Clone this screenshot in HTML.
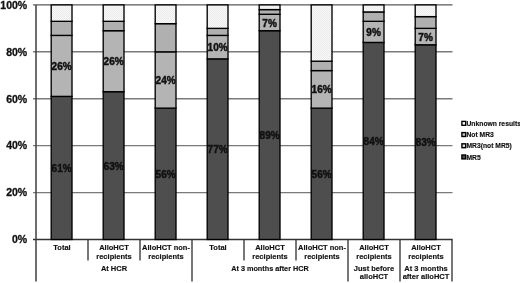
<!DOCTYPE html><html><head><meta charset="utf-8"><style>
html,body{margin:0;padding:0;background:#fff;overflow:hidden;width:520px;height:283px;}
svg{display:block;will-change:transform;font-family:"Liberation Sans",sans-serif;font-weight:bold;}
</style></head><body>
<svg width="520" height="283" viewBox="0 0 520 283">
<defs><pattern id="dots" width="2" height="2" patternUnits="userSpaceOnUse"><rect width="2" height="2" fill="#f9f9f9"/><rect width="1" height="1" fill="#eaeaea"/><rect x="1" y="1" width="1" height="1" fill="#eaeaea"/></pattern></defs>
<rect width="520" height="283" fill="#fff"/>
<line x1="33" y1="192.58" x2="452.5" y2="192.58" stroke="#7a7a7a" stroke-width="1.4"/>
<line x1="33" y1="145.66" x2="452.5" y2="145.66" stroke="#7a7a7a" stroke-width="1.4"/>
<line x1="33" y1="98.74" x2="452.5" y2="98.74" stroke="#7a7a7a" stroke-width="1.4"/>
<line x1="33" y1="51.82" x2="452.5" y2="51.82" stroke="#7a7a7a" stroke-width="1.4"/>
<line x1="33" y1="4.90" x2="452.5" y2="4.90" stroke="#5a5a5a" stroke-width="1.4"/>
<line x1="33" y1="239.50" x2="452.6" y2="239.50" stroke="#333" stroke-width="1.3"/>
<text x="27.2" y="243.30" text-anchor="end" font-size="10.5" fill="#111" stroke="#111" stroke-width="0.3">0%</text>
<text x="27.2" y="196.38" text-anchor="end" font-size="10.5" fill="#111" stroke="#111" stroke-width="0.3">20%</text>
<text x="27.2" y="149.46" text-anchor="end" font-size="10.5" fill="#111" stroke="#111" stroke-width="0.3">40%</text>
<text x="27.2" y="102.54" text-anchor="end" font-size="10.5" fill="#111" stroke="#111" stroke-width="0.3">60%</text>
<text x="27.2" y="55.62" text-anchor="end" font-size="10.5" fill="#111" stroke="#111" stroke-width="0.3">80%</text>
<text x="27.2" y="8.70" text-anchor="end" font-size="10.5" fill="#111" stroke="#111" stroke-width="0.3">100%</text>
<line x1="36" y1="4.90" x2="36" y2="281.5" stroke="#3e3e3e" stroke-width="1.5"/>
<line x1="88.00" y1="239.50" x2="88.00" y2="260.5" stroke="#2e2e2e" stroke-width="1.3"/>
<line x1="140.00" y1="239.50" x2="140.00" y2="260.5" stroke="#2e2e2e" stroke-width="1.3"/>
<line x1="192.00" y1="239.50" x2="192.00" y2="281.5" stroke="#2e2e2e" stroke-width="1.3"/>
<line x1="244.00" y1="239.50" x2="244.00" y2="260.5" stroke="#2e2e2e" stroke-width="1.3"/>
<line x1="296.00" y1="239.50" x2="296.00" y2="260.5" stroke="#2e2e2e" stroke-width="1.3"/>
<line x1="348.00" y1="239.50" x2="348.00" y2="281.5" stroke="#2e2e2e" stroke-width="1.3"/>
<line x1="400.00" y1="239.50" x2="400.00" y2="281.5" stroke="#2e2e2e" stroke-width="1.3"/>
<line x1="452.00" y1="239.50" x2="452.00" y2="281.5" stroke="#2e2e2e" stroke-width="1.3"/>
<rect x="51.20" y="96.39" width="20.80" height="143.11" fill="#4e4e4e" stroke="#000" stroke-width="1.35"/>
<rect x="51.20" y="35.40" width="20.80" height="61.00" fill="#b4b4b4" stroke="#000" stroke-width="1.35"/>
<rect x="51.20" y="21.32" width="20.80" height="14.08" fill="#b0b0b0" stroke="#000" stroke-width="1.35"/>
<rect x="51.20" y="4.90" width="20.80" height="16.42" fill="url(#dots)" stroke="#000" stroke-width="1.35"/>
<text x="61.60" y="172.05" text-anchor="middle" font-size="10" fill="#111" stroke="#111" stroke-width="0.45">61%</text>
<text x="61.60" y="70.00" text-anchor="middle" font-size="10" fill="#111" stroke="#111" stroke-width="0.45">26%</text>
<rect x="103.20" y="91.70" width="20.80" height="147.80" fill="#4e4e4e" stroke="#000" stroke-width="1.35"/>
<rect x="103.20" y="30.71" width="20.80" height="61.00" fill="#b4b4b4" stroke="#000" stroke-width="1.35"/>
<rect x="103.20" y="21.32" width="20.80" height="9.38" fill="#b0b0b0" stroke="#000" stroke-width="1.35"/>
<rect x="103.20" y="4.90" width="20.80" height="16.42" fill="url(#dots)" stroke="#000" stroke-width="1.35"/>
<text x="113.60" y="169.70" text-anchor="middle" font-size="10" fill="#111" stroke="#111" stroke-width="0.45">63%</text>
<text x="113.60" y="65.30" text-anchor="middle" font-size="10" fill="#111" stroke="#111" stroke-width="0.45">26%</text>
<rect x="155.20" y="108.12" width="20.80" height="131.38" fill="#4e4e4e" stroke="#000" stroke-width="1.35"/>
<rect x="155.20" y="51.82" width="20.80" height="56.30" fill="#b4b4b4" stroke="#000" stroke-width="1.35"/>
<rect x="155.20" y="23.67" width="20.80" height="28.15" fill="#b0b0b0" stroke="#000" stroke-width="1.35"/>
<rect x="155.20" y="4.90" width="20.80" height="18.77" fill="url(#dots)" stroke="#000" stroke-width="1.35"/>
<text x="165.60" y="177.91" text-anchor="middle" font-size="10" fill="#111" stroke="#111" stroke-width="0.45">56%</text>
<text x="165.60" y="84.07" text-anchor="middle" font-size="10" fill="#111" stroke="#111" stroke-width="0.45">24%</text>
<rect x="207.20" y="58.86" width="20.80" height="180.64" fill="#4e4e4e" stroke="#000" stroke-width="1.35"/>
<rect x="207.20" y="35.40" width="20.80" height="23.46" fill="#b4b4b4" stroke="#000" stroke-width="1.35"/>
<rect x="207.20" y="28.36" width="20.80" height="7.04" fill="#b0b0b0" stroke="#000" stroke-width="1.35"/>
<rect x="207.20" y="4.90" width="20.80" height="23.46" fill="url(#dots)" stroke="#000" stroke-width="1.35"/>
<text x="217.60" y="153.28" text-anchor="middle" font-size="10" fill="#111" stroke="#111" stroke-width="0.45">77%</text>
<text x="217.60" y="51.23" text-anchor="middle" font-size="10" fill="#111" stroke="#111" stroke-width="0.45">10%</text>
<rect x="259.20" y="30.71" width="20.80" height="208.79" fill="#4e4e4e" stroke="#000" stroke-width="1.35"/>
<rect x="259.20" y="14.28" width="20.80" height="16.42" fill="#b4b4b4" stroke="#000" stroke-width="1.35"/>
<rect x="259.20" y="9.59" width="20.80" height="4.69" fill="#b0b0b0" stroke="#000" stroke-width="1.35"/>
<rect x="259.20" y="4.90" width="20.80" height="4.69" fill="url(#dots)" stroke="#000" stroke-width="1.35"/>
<text x="269.60" y="139.20" text-anchor="middle" font-size="10" fill="#111" stroke="#111" stroke-width="0.45">89%</text>
<text x="269.60" y="26.60" text-anchor="middle" font-size="10" fill="#111" stroke="#111" stroke-width="0.45">7%</text>
<rect x="311.20" y="108.12" width="20.80" height="131.38" fill="#4e4e4e" stroke="#000" stroke-width="1.35"/>
<rect x="311.20" y="70.59" width="20.80" height="37.54" fill="#b4b4b4" stroke="#000" stroke-width="1.35"/>
<rect x="311.20" y="61.20" width="20.80" height="9.38" fill="#b0b0b0" stroke="#000" stroke-width="1.35"/>
<rect x="311.20" y="4.90" width="20.80" height="56.30" fill="url(#dots)" stroke="#000" stroke-width="1.35"/>
<text x="321.60" y="177.91" text-anchor="middle" font-size="10" fill="#111" stroke="#111" stroke-width="0.45">56%</text>
<text x="321.60" y="93.46" text-anchor="middle" font-size="10" fill="#111" stroke="#111" stroke-width="0.45">16%</text>
<rect x="363.20" y="42.44" width="20.80" height="197.06" fill="#4e4e4e" stroke="#000" stroke-width="1.35"/>
<rect x="363.20" y="21.32" width="20.80" height="21.11" fill="#b4b4b4" stroke="#000" stroke-width="1.35"/>
<rect x="363.20" y="11.94" width="20.80" height="9.38" fill="#b0b0b0" stroke="#000" stroke-width="1.35"/>
<rect x="363.20" y="4.90" width="20.80" height="7.04" fill="url(#dots)" stroke="#000" stroke-width="1.35"/>
<text x="373.60" y="145.07" text-anchor="middle" font-size="10" fill="#111" stroke="#111" stroke-width="0.45">84%</text>
<text x="373.60" y="35.98" text-anchor="middle" font-size="10" fill="#111" stroke="#111" stroke-width="0.45">9%</text>
<rect x="415.20" y="44.78" width="20.80" height="194.72" fill="#4e4e4e" stroke="#000" stroke-width="1.35"/>
<rect x="415.20" y="28.36" width="20.80" height="16.42" fill="#b4b4b4" stroke="#000" stroke-width="1.35"/>
<rect x="415.20" y="16.63" width="20.80" height="11.73" fill="#b0b0b0" stroke="#000" stroke-width="1.35"/>
<rect x="415.20" y="4.90" width="20.80" height="11.73" fill="url(#dots)" stroke="#000" stroke-width="1.35"/>
<text x="425.60" y="146.24" text-anchor="middle" font-size="10" fill="#111" stroke="#111" stroke-width="0.45">83%</text>
<text x="425.60" y="40.67" text-anchor="middle" font-size="10" fill="#111" stroke="#111" stroke-width="0.45">7%</text>
<text x="62.00" y="250.40" text-anchor="middle" font-size="7.5" fill="#111" stroke="#111" stroke-width="0.15">Total</text>
<text x="114.00" y="250.40" text-anchor="middle" font-size="7.5" fill="#111" stroke="#111" stroke-width="0.15">AlloHCT</text>
<text x="114.00" y="258.50" text-anchor="middle" font-size="7.5" fill="#111" stroke="#111" stroke-width="0.15">recipients</text>
<text x="166.00" y="250.40" text-anchor="middle" font-size="7.5" fill="#111" stroke="#111" stroke-width="0.15">AlloHCT non-</text>
<text x="166.00" y="258.50" text-anchor="middle" font-size="7.5" fill="#111" stroke="#111" stroke-width="0.15">recipients</text>
<text x="218.00" y="250.40" text-anchor="middle" font-size="7.5" fill="#111" stroke="#111" stroke-width="0.15">Total</text>
<text x="270.00" y="250.40" text-anchor="middle" font-size="7.5" fill="#111" stroke="#111" stroke-width="0.15">AlloHCT</text>
<text x="270.00" y="258.50" text-anchor="middle" font-size="7.5" fill="#111" stroke="#111" stroke-width="0.15">recipients</text>
<text x="322.00" y="250.40" text-anchor="middle" font-size="7.5" fill="#111" stroke="#111" stroke-width="0.15">AlloHCT non-</text>
<text x="322.00" y="258.50" text-anchor="middle" font-size="7.5" fill="#111" stroke="#111" stroke-width="0.15">recipients</text>
<text x="374.00" y="250.40" text-anchor="middle" font-size="7.5" fill="#111" stroke="#111" stroke-width="0.15">AlloHCT</text>
<text x="374.00" y="258.50" text-anchor="middle" font-size="7.5" fill="#111" stroke="#111" stroke-width="0.15">recipients</text>
<text x="426.00" y="250.40" text-anchor="middle" font-size="7.5" fill="#111" stroke="#111" stroke-width="0.15">AlloHCT</text>
<text x="426.00" y="258.50" text-anchor="middle" font-size="7.5" fill="#111" stroke="#111" stroke-width="0.15">recipients</text>
<text x="114.00" y="271.30" text-anchor="middle" font-size="7.5" fill="#111" stroke="#111" stroke-width="0.15">At HCR</text>
<text x="270.00" y="271.30" text-anchor="middle" font-size="7.5" fill="#111" stroke="#111" stroke-width="0.15" textLength="77.6" lengthAdjust="spacingAndGlyphs">At 3 months after HCR</text>
<text x="374.00" y="271.30" text-anchor="middle" font-size="7.5" fill="#111" stroke="#111" stroke-width="0.15">Just before</text>
<text x="374.00" y="279.30" text-anchor="middle" font-size="7.5" fill="#111" stroke="#111" stroke-width="0.15">alloHCT</text>
<text x="426.00" y="271.30" text-anchor="middle" font-size="7.5" fill="#111" stroke="#111" stroke-width="0.15">At 3 months</text>
<text x="426.00" y="279.30" text-anchor="middle" font-size="7.5" fill="#111" stroke="#111" stroke-width="0.15">after alloHCT</text>
<rect x="461.9" y="121.40" width="3.8" height="3.9" fill="#fafafa" stroke="#000" stroke-width="1.4"/>
<text x="466.5" y="126.00" font-size="6.75" fill="#111" stroke="#111" stroke-width="0.15">Unknown results</text>
<rect x="461.9" y="132.60" width="3.8" height="3.9" fill="#c4c4c4" stroke="#000" stroke-width="1.4"/>
<text x="466.5" y="137.20" font-size="6.75" fill="#111" stroke="#111" stroke-width="0.15">Not MR3</text>
<rect x="461.9" y="143.80" width="3.8" height="3.9" fill="#d8d8d8" stroke="#000" stroke-width="1.4"/>
<text x="466.5" y="148.40" font-size="6.75" fill="#111" stroke="#111" stroke-width="0.15">MR3(not MR5)</text>
<rect x="461.9" y="155.00" width="3.8" height="3.9" fill="#505050" stroke="#000" stroke-width="1.4"/>
<text x="466.5" y="159.60" font-size="6.75" fill="#111" stroke="#111" stroke-width="0.15">MR5</text>
</svg></body></html>
